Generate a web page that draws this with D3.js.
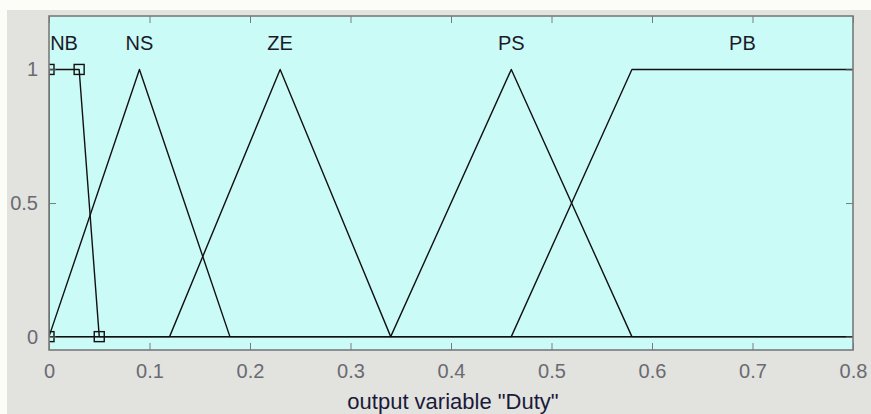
<!DOCTYPE html>
<html>
<head>
<meta charset="utf-8">
<script src="https://cdn.jsdelivr.net/npm/d3@7"></script>
<style>
  body { margin: 0; background: #fdfdf8; }
  text { font-family: "Liberation Sans", Arial, sans-serif; }
</style>
</head>
<body>
<div class="chart"></div>
<script>
const w = 871;
const h = 414;

// membership functions of output variable "Duty"
const mfNames = ["NB", "NS", "ZE", "PS", "PB"];
const mfX = [
  [0, 0, 0.03, 0.05],
  [0, 0.09, 0.18],
  [0.12, 0.23, 0.34],
  [0.34, 0.46, 0.58],
  [0.46, 0.58, 0.8, 0.8]
];
const mfY = [
  [0, 1, 1, 0],
  [0, 1, 0],
  [0, 1, 0],
  [0, 1, 0],
  [0, 1, 1, 1]
];
const xTicks = [0, 0.1, 0.2, 0.3, 0.4, 0.5, 0.6, 0.7, 0.8];
const yTicks = [0, 0.5, 1];
const xRange = [0, 0.8];

const pLeft = 49, pTop = 16, pRight = 853, pBottom = 350;

const svg = d3.select(".chart")
  .append("svg")
  .attr("width", w)
  .attr("height", h);

// figure background
svg.append("rect")
  .attr("x", 7).attr("y", 10)
  .attr("width", w - 7).attr("height", h - 10)
  .attr("fill", "#e2e2de");

const x = d3.scaleLinear().domain([0, 0.8]).range([pLeft, pRight]);
const y = d3.scaleLinear().domain([-0.05, 1.2]).range([pBottom, pTop]);

svg.append("defs").append("clipPath")
  .attr("id", "clip")
  .append("rect")
  .attr("x", pLeft).attr("y", pTop)
  .attr("width", pRight - pLeft).attr("height", pBottom - pTop);

svg.append("rect")
  .attr("x", pLeft).attr("y", pTop)
  .attr("width", pRight - pLeft).attr("height", pBottom - pTop)
  .attr("fill", "#cbfbf7");

const plot = svg.append("g").attr("clip-path", "url(#clip)");

const line = d3.line().x(d => x(d[0])).y(d => y(d[1]));

mfX.forEach((xs, i) => {
  let pts = xs.map((v, j) => [v, mfY[i][j]]);
  pts = [[xRange[0], 0]].concat(pts);
  if (mfY[i][mfY[i].length - 1] === 0) pts.push([xRange[1], 0]);
  plot.append("path")
    .attr("d", line(pts))
    .attr("fill", "none")
    .attr("stroke", "#111")
    .attr("stroke-width", 1.4)
    .attr("stroke-linejoin", "round");
});

// vertex markers of NB
plot.selectAll(".marker")
  .data(mfX[0].map((v, j) => [v, mfY[0][j]]))
  .enter().append("rect")
  .attr("class", "marker")
  .attr("x", d => x(d[0]) - 5)
  .attr("y", d => y(d[1]) - 5)
  .attr("width", 10).attr("height", 10)
  .attr("fill", "none")
  .attr("stroke", "#111")
  .attr("stroke-width", 1.4);

// mf labels at the middle of the top plateau
svg.selectAll(".mflabel")
  .data(mfNames)
  .enter().append("text")
  .attr("class", "mflabel")
  .attr("x", (d, i) => {
    const tops = mfX[i].filter((v, j) => mfY[i][j] === 1);
    return x(d3.mean(d3.extent(tops)));
  })
  .attr("y", y(1.1) + 7)
  .attr("text-anchor", "middle")
  .attr("font-size", 20)
  .attr("fill", "#1a1a2a")
  .text(d => d);

// axes
const tickLen = 7;
svg.append("g")
  .attr("transform", `translate(0,${pBottom})`)
  .call(d3.axisBottom(x).tickValues(xTicks).tickSizeInner(-tickLen).tickSizeOuter(0).tickPadding(14).tickFormat(d3.format("")))
  .call(g => g.select(".domain").remove());
svg.append("g")
  .attr("transform", `translate(0,${pTop})`)
  .call(d3.axisTop(x).tickValues(xTicks).tickSizeInner(-tickLen).tickSizeOuter(0).tickFormat(""))
  .call(g => g.select(".domain").remove());
svg.append("g")
  .attr("transform", `translate(${pLeft},0)`)
  .call(d3.axisLeft(y).tickValues(yTicks).tickSizeInner(-tickLen).tickSizeOuter(0).tickPadding(11).tickFormat(d3.format("")))
  .call(g => g.select(".domain").remove());
svg.append("g")
  .attr("transform", `translate(${pRight},0)`)
  .call(d3.axisRight(y).tickValues(yTicks).tickSizeInner(-tickLen).tickSizeOuter(0).tickFormat(""))
  .call(g => g.select(".domain").remove());

svg.selectAll(".tick line").attr("stroke", "#7a7a7a");
svg.selectAll(".tick text")
  .attr("font-size", 20)
  .attr("fill", "#6a6a72")
  .style("font-family", "'Liberation Sans', Arial, sans-serif");

// frame
svg.append("rect")
  .attr("x", pLeft).attr("y", pTop)
  .attr("width", pRight - pLeft).attr("height", pBottom - pTop)
  .attr("fill", "none")
  .attr("stroke", "#7a7a7a")
  .attr("stroke-width", 1.6);

svg.append("text")
  .attr("x", (pLeft + pRight) / 2 + 2)
  .attr("y", 409)
  .attr("text-anchor", "middle")
  .attr("font-size", 22)
  .attr("fill", "#1a1a3a")
  .text('output variable "Duty"');
</script>
</body>
</html>
